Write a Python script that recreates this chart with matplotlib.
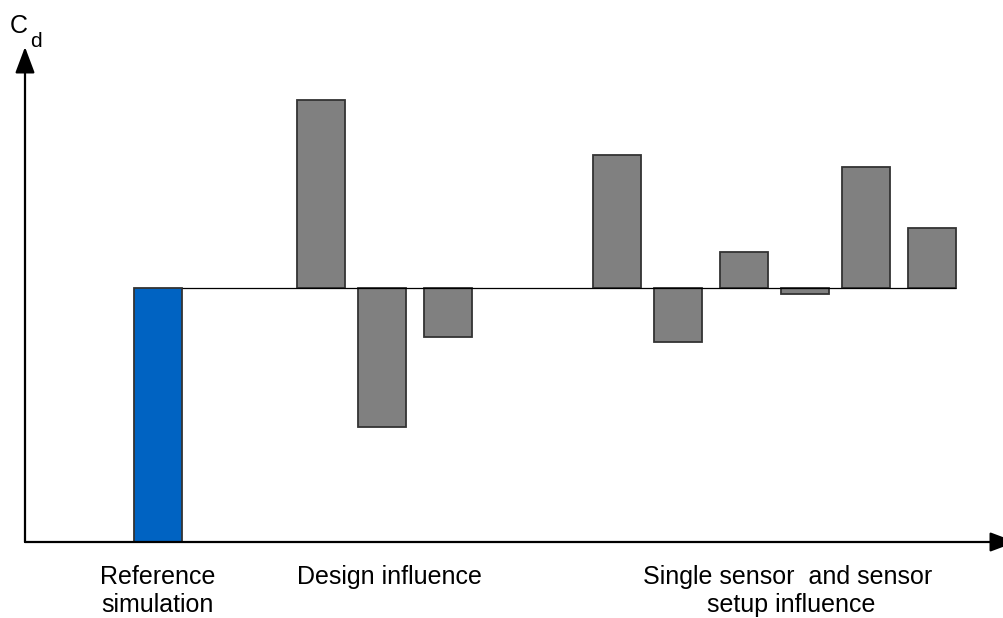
import matplotlib
matplotlib.use("Agg")
import matplotlib.pyplot as plt
from matplotlib.transforms import blended_transform_factory

plt.rcParams["font.family"] = ["Liberation Sans", "DejaVu Sans"]

# Drag coefficient: reference simulation and deviations of each variant from it
reference_cd = 1.0
design_pos = [2.68, 3.67, 4.75]
design_delta = [0.740, -0.547, -0.191]
sensor_pos = [7.53, 8.53, 9.61, 10.61, 11.61, 12.70]
sensor_delta = [0.524, -0.213, 0.142, -0.024, 0.476, 0.236]

group_labels = ["Reference\nsimulation", "Design influence",
                "Single sensor  and sensor \nsetup influence"]
group_label_pos = [0.0, 3.80, 10.38]

bar_width = 0.787
W, H = 1004, 618
fig = plt.figure(figsize=(W / 100, H / 100), dpi=100)

# axes box: origin at the corner of the two arrows
left_px, bottom_px, top_px, right_px = 25, 542, 47, 1016
ax = fig.add_axes([left_px / W, (H - bottom_px) / H,
                   (right_px - left_px) / W, (bottom_px - top_px) / H])
ax.set_xlim(-2.18, 14.07)
ax.set_ylim(0, 1.949)
ax.axis("off")

edge = "#333333"
ax.bar([0.0], [reference_cd], width=bar_width, color="#0063c2",
       edgecolor=edge, linewidth=1.3, zorder=2)
ax.bar(design_pos, design_delta, bottom=reference_cd, width=bar_width,
       color="#808080", edgecolor=edge, linewidth=1.3, zorder=2)
ax.bar(sensor_pos, sensor_delta, bottom=reference_cd, width=bar_width,
       color="#808080", edgecolor=edge, linewidth=1.3, zorder=2)

# reference level line
ax.hlines(reference_cd, bar_width / 2, sensor_pos[-1] + bar_width / 2,
          color="black", linewidth=0.9, zorder=3)

# arrowed axes
arrow = dict(arrowstyle="-|>,head_length=0.8,head_width=0.3",
             mutation_scale=20, color="black", lw=1.6,
             shrinkA=0, shrinkB=0)
ax.annotate("", xy=(1, 0), xytext=(0, 0), xycoords="axes fraction",
            arrowprops=arrow, annotation_clip=False)
ax.annotate("", xy=(0, 1), xytext=(0, 0), xycoords="axes fraction",
            arrowprops=arrow, annotation_clip=False)

# group labels under the axis
trans = blended_transform_factory(ax.transData, fig.transFigure)
for lab, xp in zip(group_labels, group_label_pos):
    ax.text(xp, 1 - 565 / H, lab, transform=trans, ha="center", va="top",
            fontsize=18, linespacing=1.22, multialignment="center")

# axis label C_d
fig.text(10 / W, 1 - 33 / H, "C", fontsize=18, va="baseline", ha="left")
fig.text(30 / W, 1 - 47 / H, "d", fontsize=15, va="baseline", ha="left")

fig.savefig("out.png", dpi=100)
